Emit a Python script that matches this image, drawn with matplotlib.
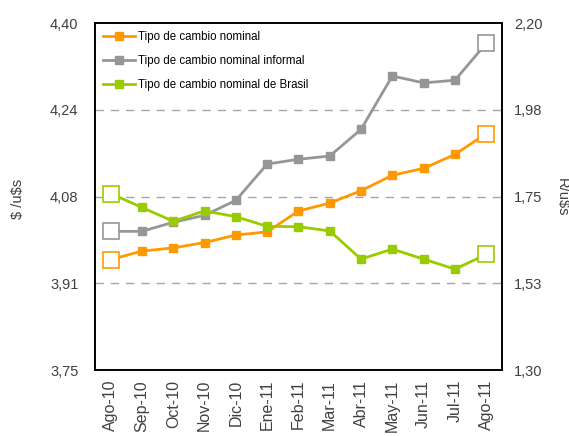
import matplotlib
matplotlib.use("Agg")
import matplotlib.pyplot as plt
from matplotlib import font_manager

meses = ["Ago-10", "Sep-10", "Oct-10", "Nov-10", "Dic-10", "Ene-11", "Feb-11",
         "Mar-11", "Abr-11", "May-11", "Jun-11", "Jul-11", "Ago-11"]
nominal = [3.957, 3.973, 3.979, 3.989, 4.003, 4.009, 4.048, 4.063, 4.086,
           4.115, 4.128, 4.154, 4.193]
informal = [4.010, 4.010, 4.027, 4.040, 4.068, 4.136, 4.145, 4.151, 4.201,
            4.301, 4.288, 4.293, 4.362]
brasil = [1.758, 1.722, 1.686, 1.713, 1.698, 1.673, 1.672, 1.661, 1.588,
          1.614, 1.588, 1.562, 1.600]

left_ticks = [3.75, 3.9125, 4.075, 4.2375, 4.40]
left_labels = ["3,75", "3,91", "4,08", "4,24", "4,40"]
right_ticks = [1.30, 1.525, 1.75, 1.975, 2.20]
right_labels = ["1,30", "1,53", "1,75", "1,98", "2,20"]

names = {f.name for f in font_manager.fontManager.ttflist}
narrow = "Liberation Sans Narrow" if "Liberation Sans Narrow" in names else "Liberation Sans"
plt.rcParams["font.family"] = ["Liberation Sans", "DejaVu Sans"]

c_or = "#FF9900"
c_gr = "#969696"
c_ve = "#99CC00"
txt = "#404040"

fig = plt.figure(figsize=(5.69, 4.36), dpi=100)
ax = fig.add_axes([0.167, 0.151, 0.715, 0.796])
ax2 = ax.twinx()

x = list(range(len(meses)))

def serie(a, vals, color, label):
    a.plot(x, vals, color=color, lw=2, marker="s", ms=6, label=label, zorder=3)
    # primer y ultimo punto como cuadrados huecos
    a.plot([x[0], x[-1]], [vals[0], vals[-1]], ls="none", marker="s", ms=11,
           mfc="white", mec=color, mew=1.2, zorder=4)

serie(ax, nominal, c_or, "Tipo de cambio nominal")
serie(ax, informal, c_gr, "Tipo de cambio nominal informal")
serie(ax2, brasil, c_ve, "Tipo de cambio nominal de Brasil")

ax.set_xlim(-0.5, len(meses) - 0.5)
ax.set_ylim(3.75, 4.40)
ax2.set_ylim(1.30, 2.20)

ax.set_yticks(left_ticks)
ax.set_yticklabels(left_labels)
ax2.set_yticks(right_ticks)
ax2.set_yticklabels(right_labels)
ax.set_xticks(x)
ax.set_xticklabels(meses, rotation=90)

for t in left_ticks[1:-1]:
    ax.axhline(t, color="#A6A6A6", lw=1, ls=(0, (6, 5)), zorder=1)

ax.tick_params(axis="y", length=0, pad=12, labelsize=10.5, labelcolor=txt)
ax2.tick_params(axis="y", length=0, pad=9, labelsize=10.5, labelcolor=txt)
ax.tick_params(axis="x", length=0, pad=7, labelsize=11.5, labelcolor=txt)

for a in (ax, ax2):
    for s in a.spines.values():
        s.set_color("black")
        s.set_linewidth(1.2)

fig.text(18 / 569, 1 - 199 / 436, "\\$ /u\\$s", fontsize=10.5, color=txt,
         rotation=90, ha="center", va="center")
fig.text(562 / 569, 1 - 197 / 436, "R/u\\$s", fontsize=10.5, color=txt,
         rotation=-90, ha="center", va="center")

h1, l1 = ax.get_legend_handles_labels()
h2, l2 = ax2.get_legend_handles_labels()
leg = ax2.legend(h1 + h2, l1 + l2, loc="upper left", frameon=False,
                 prop={"family": narrow, "size": 8.3}, handlelength=2.8,
                 handletextpad=0.2, labelspacing=1.05,
                 borderaxespad=0.3, bbox_to_anchor=(0.0, 1.0))
for t in leg.get_texts():
    t.set_color("black")

fig.savefig("out.png", dpi=100)
